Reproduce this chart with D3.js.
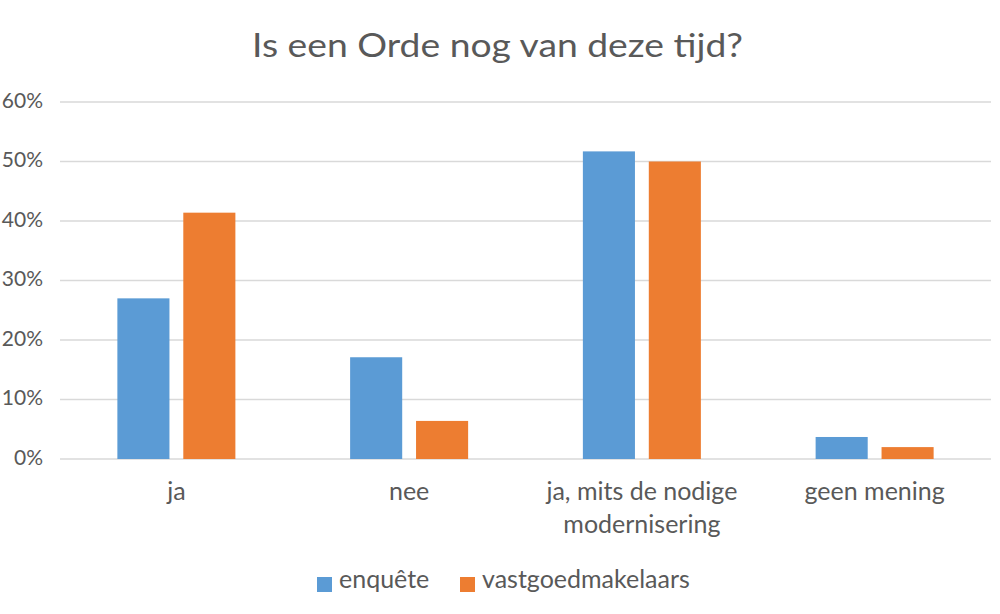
<!DOCTYPE html>
<html lang="nl">
<head>
    <meta charset="UTF-8">
    <title>Is een Orde nog van deze tijd?</title>
    <script src="https://d3js.org/d3.v7.min.js"></script>
    <style>
        body {
            margin: 0;
            background: #fff;
            overflow: hidden;
        }
        text {
            font-family: "Lato", "Open Sans", sans-serif;
            fill: #595959;
        }
        .grid line {
            stroke: #d9d9d9;
            stroke-width: 1.3;
        }
    </style>
</head>
<body>
    <script>
        // Gegevens uit de grafiek (percentages)
        const categories = ["ja", "nee", "ja, mits de nodige modernisering", "geen mening"];
        const categoryLines = [["ja"], ["nee"], ["ja, mits de nodige", "modernisering"], ["geen mening"]];
        const seriesNames = ["enquête", "vastgoedmakelaars"];
        const enquete = [27.0, 17.1, 51.7, 3.7];
        const vastgoedmakelaars = [41.4, 6.4, 50.0, 2.0];
        const yTicks = [0, 10, 20, 30, 40, 50, 60];
        const colors = ["#5b9bd5", "#ed7d31"];

        const width = 1000;
        const height = 614;
        const margin = { top: 102, right: 9, bottom: 155, left: 60 };

        const svg = d3.select("body").append("svg")
            .attr("width", width)
            .attr("height", height);

        const x0 = d3.scaleBand()
            .domain(categories)
            .range([margin.left, width - margin.right])
            .paddingInner(0.493)
            .paddingOuter(0.2465);

        const x1 = d3.scaleBand()
            .domain(seriesNames)
            .range([0, x0.bandwidth()])
            .paddingInner(0.21);

        const y = d3.scaleLinear()
            .domain([0, 60])
            .range([height - margin.bottom, margin.top]);

        // Titel
        svg.append("text")
            .attr("x", 252)
            .attr("y", 57)
            .attr("textLength", 491)
            .attr("lengthAdjust", "spacingAndGlyphs")
            .style("font-size", "32px")
            .text("Is een Orde nog van deze tijd?");

        // Rasterlijnen
        svg.append("g")
            .attr("class", "grid")
            .selectAll("line")
            .data(yTicks)
            .enter().append("line")
            .attr("x1", margin.left)
            .attr("x2", width - margin.right)
            .attr("y1", d => y(d))
            .attr("y2", d => y(d));

        // Y-as labels
        const yAxis = svg.append("g")
            .attr("transform", `translate(43,0)`)
            .call(d3.axisLeft(y).tickValues(yTicks).tickFormat(d => d + "%").tickSize(0).tickPadding(0));
        yAxis.select(".domain").remove();
        yAxis.selectAll("text")
            .style("font-size", "21px")
            .style("font-family", "Lato, sans-serif")
            .attr("fill", "#595959")
            .attr("dy", "0.25em");

        // Staven
        const data = categories.map((c, i) => ({
            cat: c,
            values: [
                { name: seriesNames[0], v: enquete[i] },
                { name: seriesNames[1], v: vastgoedmakelaars[i] }
            ]
        }));

        const groups = svg.append("g")
            .selectAll("g")
            .data(data)
            .enter().append("g")
            .attr("transform", d => `translate(${x0(d.cat)},0)`);

        groups.selectAll("rect")
            .data(d => d.values)
            .enter().append("rect")
            .attr("x", d => x1(d.name))
            .attr("width", x1.bandwidth())
            .attr("y", d => y(d.v))
            .attr("height", d => y(0) - y(d.v))
            .attr("fill", (d, i) => colors[i]);

        // Categorie labels (over meerdere regels)
        const catLabels = svg.append("g")
            .selectAll("text")
            .data(categories)
            .enter().append("text")
            .attr("x", d => x0(d) + x0.bandwidth() / 2)
            .attr("y", 500)
            .attr("text-anchor", "middle")
            .style("font-size", "25px");

        catLabels.selectAll("tspan")
            .data((d, i) => categoryLines[i])
            .enter().append("tspan")
            .attr("x", function() { return d3.select(this.parentNode).attr("x"); })
            .attr("dy", (d, i) => i === 0 ? 0 : 33)
            .text(d => d);

        // Legenda
        const legendX = [317, 460];
        const legend = svg.append("g")
            .selectAll("g")
            .data(seriesNames)
            .enter().append("g")
            .attr("transform", (d, i) => `translate(${legendX[i]},577)`);

        legend.append("rect")
            .attr("width", 15)
            .attr("height", 15)
            .attr("fill", (d, i) => colors[i]);

        legend.append("text")
            .attr("x", 22)
            .attr("y", 11)
            .style("font-size", "25px")
            .text(d => d);
    </script>
</body>
</html>
